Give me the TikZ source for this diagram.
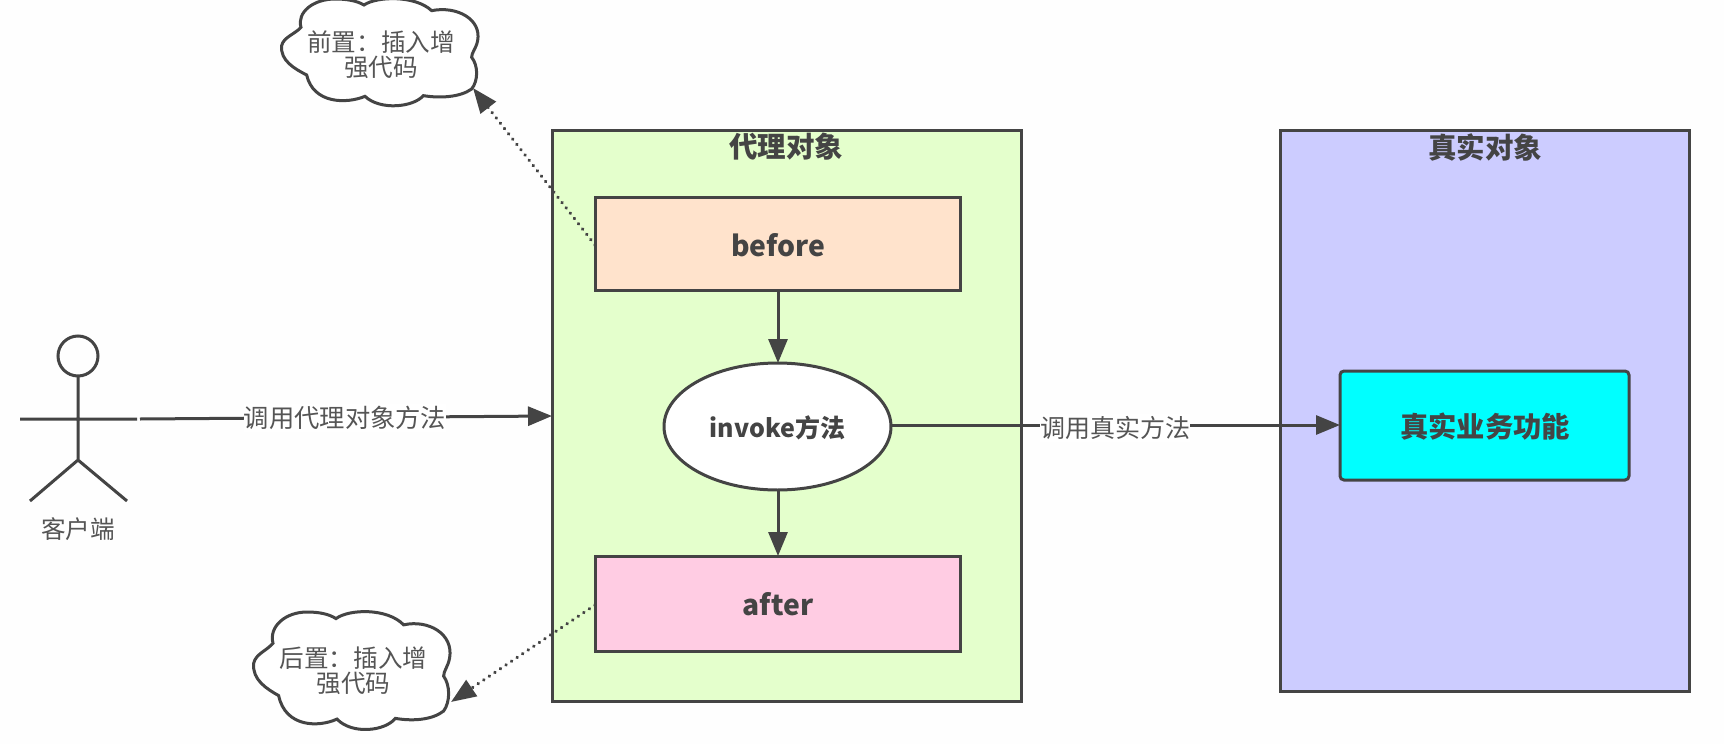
\documentclass[tikz,border=0pt]{standalone}
\usepackage{fontspec}
\setmainfont{Noto Sans CJK SC}
\usetikzlibrary{arrows.meta}
\definecolor{ink}{HTML}{444444}
\definecolor{txt}{HTML}{555555}
\definecolor{proxyfill}{HTML}{E4FFCC}
\definecolor{realfill}{HTML}{CCCCFF}
\definecolor{beforefill}{HTML}{FFE3CC}
\definecolor{afterfill}{HTML}{FFCCE3}
\definecolor{bizfill}{HTML}{00FFFF}
\definecolor{paper}{HTML}{FEFEFE}
\tikzset{
  x=1pt,y=-1pt,
  every node/.style={inner sep=0pt,outer sep=0pt,text=txt},
  box/.style={draw=ink,line width=3pt,anchor=north west},
  title/.style={font=\fontsize{28.5}{32}\selectfont\bfseries,text=ink},
  boxtext/.style={font=\fontsize{28.3}{32}\selectfont\bfseries,text=ink},
  small/.style={font=\fontsize{24.6}{25}\selectfont,align=center},
  flow/.style={draw=ink,line width=3pt,-{Triangle[length=24pt,width=19pt]}},
  hint/.style={draw=ink,line width=3.6pt,line cap=round,dash pattern=on 0.1pt off 6.6pt,-{Triangle[length=25pt,width=19pt,line cap=butt]}},
  stick/.style={draw=ink,line width=3pt},
  cloudline/.style={draw=ink,line width=3pt,fill=white}
}
\newcommand{\cloudoutline}{(125,140) .. controls (130,115) and (165,105) .. (183,85)
  .. controls (170,40) and (220,0) .. (285,0)
  .. controls (320,0) and (350,5) .. (372,18)
  .. controls (410,-8) and (525,-12) .. (575,35)
  .. controls (650,20) and (725,60) .. (713,125)
  .. controls (708,150) and (695,160) .. (695,175)
  .. controls (715,200) and (715,245) .. (695,270)
  .. controls (660,295) and (600,298) .. (550,290)
  .. controls (520,325) and (420,335) .. (375,292)
  .. controls (320,315) and (220,315) .. (200,228)
  .. controls (165,210) and (120,185) .. (125,140) -- cycle}
\begin{document}
\begin{tikzpicture}
\useasboundingbox (0,0) rectangle (1724,744);
\fill[paper] (0,0) rectangle (1724,744);
% containers
\node[box,fill=proxyfill,minimum width=469pt,minimum height=571pt] (proxy) at (552,130) {};
\node[box,fill=realfill,minimum width=409pt,minimum height=561pt] (real) at (1280,130) {};
\node[title] (proxytitle) at (786,147) {代理对象};
\node[title] (realtitle) at (1485,147) {真实对象};
\node[box,fill=beforefill,minimum width=365pt,minimum height=93pt] (before) at (595,197) {};
\node[box,fill=afterfill,minimum width=365pt,minimum height=95pt] (after) at (595,556) {};
\node[boxtext] (beforetext) at (778,245) {before};
\node[boxtext] (aftertext) at (778,604) {after};
\draw[draw=ink,line width=3pt,fill=white] (777.5,426.5) ellipse [x radius=113.5pt,y radius=63.5pt];
\coordinate (invT) at (778,363);
\coordinate (invB) at (778,490);
\coordinate (invR) at (891,425);
\node[font=\fontsize{25}{28}\selectfont\bfseries,text=ink] (invoke) at (777.5,428) {invoke方法};
\draw[box,fill=bizfill,rounded corners=4pt] (1340,371) rectangle (1629,480);
\coordinate (bizL) at (1340,425);
\node[boxtext] (biz) at (1485,427) {真实业务功能};
% clouds
\begin{scope}[shift={(240,-1)},x=0.3333pt,y=-0.3333pt]
\path[cloudline] \cloudoutline;
\end{scope}
\node[small] (c1) at (381,54.5) {前置：插入增\\强代码};
\coordinate (c1tip) at (473,88);
\begin{scope}[shift={(212,612)},x=0.3333pt,y=-0.3667pt]
\path[cloudline] \cloudoutline;
\end{scope}
\node[small] (c2) at (353.5,671) {后置：插入增\\强代码};
\coordinate (c2tip) at (451,702);
% actor
\draw[stick] (78,356) circle [radius=20pt];
\coordinate (neck) at (78,377);
\coordinate (hip) at (78,460);
\coordinate (armL) at (20,419);
\coordinate (armR) at (137,419);
\coordinate (legL) at (30,501);
\coordinate (legR) at (127,501);
\coordinate (callstart) at (140,419);
\draw[stick] (neck) -- (hip) (armL) -- (armR) (hip) -- (legL) (hip) -- (legR);
\node[font=\fontsize{24.6}{28}\selectfont] (client) at (78,529) {客户端};
% connectors
\coordinate (proxyL) at (552,416);
\coordinate (h1) at (595,245);
\coordinate (h2) at (595,605);
\draw[flow] (before.south -| invT) -- (invT);
\draw[flow] (invB) -- (after.north -| invB);
\draw[flow] (callstart) -- (proxyL);
\draw[flow] (invR) -- (bizL);
\draw[hint] (h1) -- (c1tip);
\draw[hint] (h2) -- (c2tip);
\node[fill=white,font=\fontsize{25.3}{28}\selectfont,inner ysep=2pt] (l1) at (345,418) {调用代理对象方法};
\node[fill=white,font=\fontsize{25}{28}\selectfont,inner ysep=2pt] (l2) at (1115,428) {调用真实方法};
\end{tikzpicture}
\end{document}
